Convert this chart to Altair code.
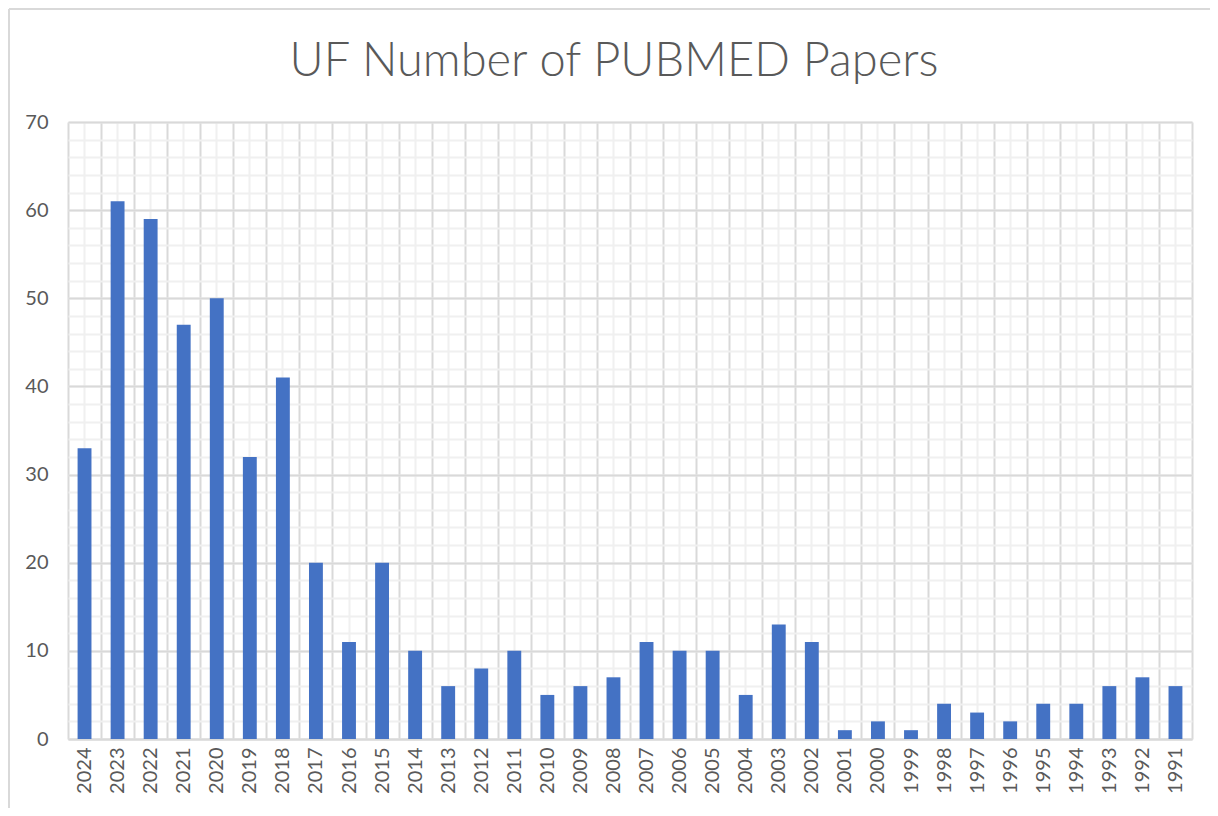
import altair as alt
import pandas as pd

years = ["2024", "2023", "2022", "2021", "2020", "2019", "2018", "2017", "2016", "2015",
         "2014", "2013", "2012", "2011", "2010", "2009", "2008", "2007", "2006", "2005",
         "2004", "2003", "2002", "2001", "2000", "1999", "1998", "1997", "1996", "1995",
         "1994", "1993", "1992", "1991"]
papers = [33, 61, 59, 47, 50, 32, 41, 20, 11, 20,
          10, 6, 8, 10, 5, 6, 7, 11, 10, 10,
          5, 13, 11, 1, 2, 1, 4, 3, 2, 4,
          4, 6, 7, 6]
major_ticks = [0, 10, 20, 30, 40, 50, 60, 70]
minor_ticks = [0, 2, 4, 6, 8, 10, 12, 14, 16, 18, 20, 22, 24, 26, 28, 30, 32, 34,
               36, 38, 40, 42, 44, 46, 48, 50, 52, 54, 56, 58, 60, 62, 64, 66, 68, 70]

df = pd.DataFrame({"year": years, "papers": papers})

FONT = "Lato"
TXT = "#595959"
MAJOR = "#D9D9D9"
MINOR = "#F0F0F0"
BAR = "#4472C4"

xscale = alt.Scale(paddingInner=0, paddingOuter=0)
yscale = alt.Scale(domain=[0, 70], nice=False)

base = alt.Chart(df)

minor = base.mark_bar(width=alt.RelativeBandSize(0.42), color=BAR, opacity=0).encode(
    x=alt.X("year:N", sort=None, scale=xscale,
            axis=alt.Axis(orient="bottom", labels=False, ticks=False, domain=False,
                          title=None, grid=True, gridColor=MINOR, gridWidth=2,
                          tickBand="center")),
    y=alt.Y("papers:Q", scale=yscale,
            axis=alt.Axis(orient="left", values=minor_ticks, labels=False, ticks=False,
                          domain=False, title=None, grid=True, gridColor=MINOR,
                          gridWidth=2)),
)

major = base.mark_bar(width=alt.RelativeBandSize(0.42), color=BAR).encode(
    x=alt.X("year:N", sort=None, scale=xscale,
            axis=alt.Axis(orient="bottom", labelAngle=270, labelAlign="right",
                          labelBaseline="middle", labelPadding=8, labelFontSize=20,
                          labelFont=FONT, labelColor=TXT, ticks=False, domain=True,
                          domainColor=MAJOR, domainWidth=2, grid=True,
                          gridColor=MAJOR, gridWidth=2, tickBand="extent",
                          title=None)),
    y=alt.Y("papers:Q", scale=yscale,
            axis=alt.Axis(orient="left", values=major_ticks, labelFontSize=20,
                          labelFont=FONT, labelColor=TXT, labelPadding=20,
                          ticks=False, domain=False, title=None, grid=True,
                          gridColor=MAJOR, gridWidth=2)),
)

frame_df = pd.DataFrame({"k": [0]})
frame_top = alt.Chart(frame_df).mark_rule(color=MAJOR, strokeWidth=2).encode(
    x=alt.value(-59), x2=alt.value(1142), y=alt.value(-113))
frame_left = alt.Chart(frame_df).mark_rule(color=MAJOR, strokeWidth=2).encode(
    x=alt.value(-59), y=alt.value(-113), y2=alt.value(686))

chart = alt.layer(minor, major, frame_top, frame_left).resolve_axis(
    x="independent", y="independent"
).properties(
    width=1124,
    height=617,
    padding={"left": 60, "top": 114, "right": 18, "bottom": 69},
    autosize=alt.AutoSizeParams(type="none"),
    title=alt.TitleParams(text="UF Number of PUBMED Papers", fontSize=47, font=FONT,
                          fontWeight=300, color=TXT, anchor="middle", dx=-16,
                          offset=-78),
).configure_view(stroke=None).configure(background="white")

chart.save("out.html", embed_options={"renderer": "svg", "actions": False})
